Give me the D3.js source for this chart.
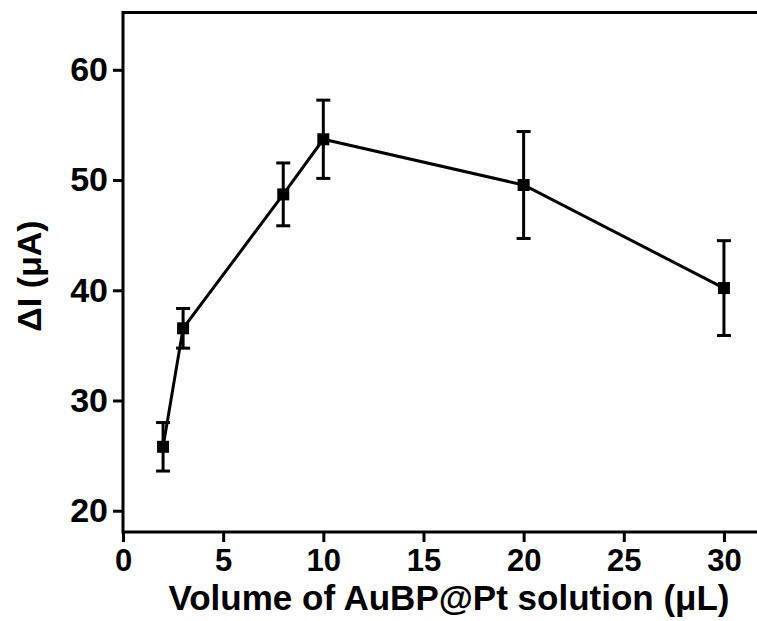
<!DOCTYPE html>
<html lang="en">
<head>
    <meta charset="UTF-8">
    <title>Response vs volume of AuBP@Pt solution</title>
    <script src="https://cdn.jsdelivr.net/npm/d3@7"></script>
    <style>
        body { margin: 0; background: white; }
        svg { display: block; }
        text { font-family: Arial, "Liberation Sans", sans-serif; font-weight: bold; fill: black; }
    </style>
</head>
<body>
<svg></svg>
<script>
    // DATA
    const volumes = [2, 3, 8, 10, 20, 30];
    const deltaI  = [25.8, 36.55, 48.7, 53.7, 49.55, 40.2];
    const errors  = [2.2, 1.8, 2.85, 3.55, 4.85, 4.3];
    const xTicks  = [0, 5, 10, 15, 20, 25, 30];
    const yTicks  = [20, 30, 40, 50, 60];

    const points = volumes.map((v, i) => ({x: v, y: deltaI[i], e: errors[i]}));

    // CHART dimensions
    const dim = {width: 757, height: 621};
    const plot = {left: 123, right: 764, top: 12.5, bottom: 532};

    const svg = d3.select("svg")
        .attr("width", dim.width)
        .attr("height", dim.height);

    // SCALES
    const x = d3.scaleLinear().domain([0, 32]).range([plot.left, plot.right]);
    const y = d3.scaleLinear().domain([18.07, 65.2]).range([plot.bottom, plot.top]);

    // frame (right edge falls outside the window)
    svg.append("rect")
        .attr("x", plot.left).attr("y", plot.top)
        .attr("width", plot.right - plot.left)
        .attr("height", plot.bottom - plot.top)
        .attr("fill", "none")
        .attr("stroke", "black")
        .attr("stroke-width", 3);

    // AXES
    const xAxis = svg.append("g")
        .attr("transform", `translate(0,${plot.bottom})`)
        .call(d3.axisBottom(x).tickValues(xTicks).tickSize(10).tickPadding(7));
    const yAxis = svg.append("g")
        .attr("transform", `translate(${plot.left},0)`)
        .call(d3.axisLeft(y).tickValues(yTicks).tickSize(10).tickPadding(5));

    [xAxis, yAxis].forEach(g => {
        g.select(".domain").remove();
        g.attr("font-family", null).attr("font-size", null);
        g.selectAll(".tick line").attr("stroke", "black").attr("stroke-width", 3);
        g.selectAll(".tick text").attr("fill", "black");
    });
    xAxis.selectAll(".tick text").style("font-size", "31px");
    yAxis.selectAll(".tick text").style("font-size", "34px");

    // axis titles
    svg.append("text")
        .attr("x", 449).attr("y", 610)
        .attr("text-anchor", "middle")
        .style("font-size", "35px")
        .text("Volume of AuBP@Pt solution (μL)");

    svg.append("text")
        .attr("transform", "translate(41,276) rotate(-90)")
        .attr("text-anchor", "middle")
        .style("font-size", "34px")
        .text("ΔI (μA)");

    // LINE
    svg.append("path")
        .datum(points)
        .attr("fill", "none")
        .attr("stroke", "black")
        .attr("stroke-width", 3)
        .attr("d", d3.line().x(d => x(d.x)).y(d => y(d.y)));

    // ERROR BARS
    const eb = svg.append("g").attr("stroke", "black").attr("stroke-width", 3);
    eb.selectAll("line.v")
        .data(points)
        .join("line")
            .attr("class", "v")
            .attr("x1", d => x(d.x)).attr("x2", d => x(d.x))
            .attr("y1", d => y(d.y - d.e)).attr("y2", d => y(d.y + d.e));
    eb.selectAll("line.cap")
        .data(points.flatMap(d => [{x: d.x, v: d.y - d.e}, {x: d.x, v: d.y + d.e}]))
        .join("line")
            .attr("class", "cap")
            .attr("x1", d => x(d.x) - 7).attr("x2", d => x(d.x) + 7)
            .attr("y1", d => y(d.v)).attr("y2", d => y(d.v));

    // MARKERS
    svg.selectAll("rect.pt")
        .data(points)
        .join("rect")
            .attr("class", "pt")
            .attr("x", d => x(d.x) - 6)
            .attr("y", d => y(d.y) - 6)
            .attr("width", 12).attr("height", 12)
            .attr("fill", "black");
</script>
</body>
</html>
